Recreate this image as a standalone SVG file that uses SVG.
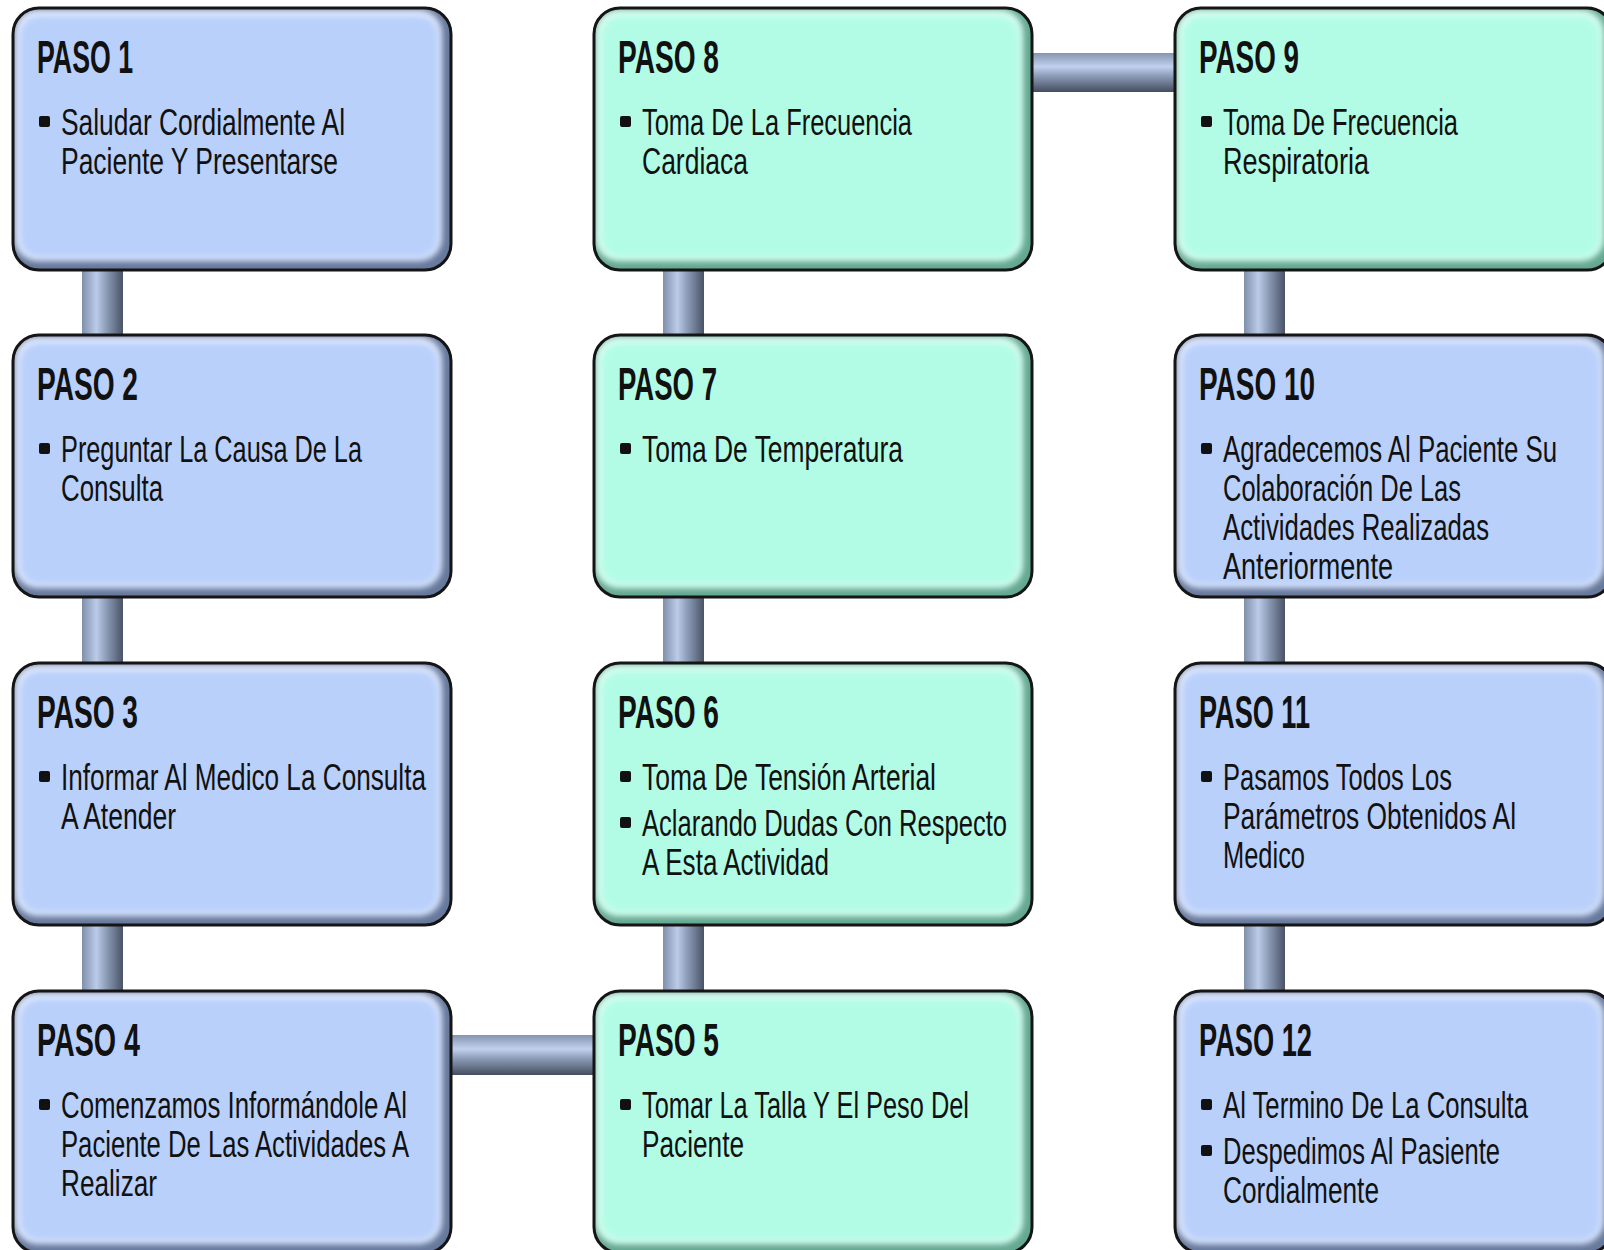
<svg xmlns="http://www.w3.org/2000/svg" width="1604" height="1250" viewBox="0 0 1604 1250">
<defs>
<style>
.t{font-family:"Liberation Sans Narrow","Liberation Sans","DejaVu Sans",sans-serif;font-stretch:condensed;font-weight:bold;font-size:46px;fill:#111}
.b{font-family:"Liberation Sans Narrow","Liberation Sans","DejaVu Sans",sans-serif;font-stretch:condensed;font-size:37px;fill:#111}
.dot{fill:#111}
.ol{fill:none;stroke:#151515;stroke-width:3}
</style>
<linearGradient id="gv" x1="0" y1="0" x2="1" y2="0">
<stop offset="0" stop-color="#7f90ab"/>
<stop offset="0.35" stop-color="#bccbe8"/>
<stop offset="0.6" stop-color="#8b9bb6"/>
<stop offset="1" stop-color="#4a5366"/>
</linearGradient>
<linearGradient id="gh" x1="0" y1="0" x2="0" y2="1">
<stop offset="0" stop-color="#8595b0"/>
<stop offset="0.35" stop-color="#c0d0ee"/>
<stop offset="0.6" stop-color="#8a9ab5"/>
<stop offset="1" stop-color="#454d5f"/>
</linearGradient>
<clipPath id="cb"><rect x="0" y="0" width="438" height="262" rx="26"/></clipPath>
<filter id="bl" x="-10%" y="-10%" width="120%" height="120%"><feGaussianBlur stdDeviation="3.5"/></filter>
<g id="blueBox">
<g clip-path="url(#cb)">
<rect x="0" y="0" width="438" height="262" fill="#66789c"/>
<rect x="2" y="2" width="426" height="250" rx="22" fill="#eef3ff" filter="url(#bl)"/>
<rect x="6" y="7" width="420" height="243" rx="20" fill="#b9d0fb" filter="url(#bl)"/>
</g>
<rect class="ol" x="0" y="0" width="438" height="262" rx="26"/>
</g>
<g id="greenBox">
<g clip-path="url(#cb)">
<rect x="0" y="0" width="438" height="262" fill="#64a891"/>
<rect x="2" y="2" width="426" height="250" rx="22" fill="#ebfff8" filter="url(#bl)"/>
<rect x="6" y="7" width="420" height="243" rx="20" fill="#b2fce5" filter="url(#bl)"/>
</g>
<rect class="ol" x="0" y="0" width="438" height="262" rx="26"/>
</g>
</defs>
<rect width="1604" height="1250" fill="#ffffff"/>
<g id="connectors">
<rect x="82" y="262" width="41" height="78" fill="url(#gv)"/>
<rect x="82" y="590" width="41" height="78" fill="url(#gv)"/>
<rect x="82" y="918" width="41" height="78" fill="url(#gv)"/>
<rect x="663" y="262" width="41" height="78" fill="url(#gv)"/>
<rect x="663" y="590" width="41" height="78" fill="url(#gv)"/>
<rect x="663" y="918" width="41" height="78" fill="url(#gv)"/>
<rect x="1244" y="262" width="41" height="78" fill="url(#gv)"/>
<rect x="1244" y="590" width="41" height="78" fill="url(#gv)"/>
<rect x="1244" y="918" width="41" height="78" fill="url(#gv)"/>
<rect x="445" y="1035" width="155" height="40" fill="url(#gh)"/>
<rect x="1027" y="53" width="153" height="39" fill="url(#gh)"/>
</g>
<g id="paso1" transform="translate(13,8)">
<use href="#blueBox"/>
<text class="t" x="24" y="65" textLength="96" lengthAdjust="spacingAndGlyphs">PASO 1</text>
<rect class="dot" x="26" y="108" width="11" height="11" rx="2"/>
<text class="b" x="48" y="127" textLength="284" lengthAdjust="spacingAndGlyphs">Saludar Cordialmente Al</text>
<text class="b" x="48" y="166" textLength="277" lengthAdjust="spacingAndGlyphs">Paciente Y Presentarse</text>
</g>
<g id="paso2" transform="translate(13,335)">
<use href="#blueBox"/>
<text class="t" x="24" y="65" textLength="101" lengthAdjust="spacingAndGlyphs">PASO 2</text>
<rect class="dot" x="26" y="108" width="11" height="11" rx="2"/>
<text class="b" x="48" y="127" textLength="301" lengthAdjust="spacingAndGlyphs">Preguntar La Causa De La</text>
<text class="b" x="48" y="166" textLength="102" lengthAdjust="spacingAndGlyphs">Consulta</text>
</g>
<g id="paso3" transform="translate(13,663)">
<use href="#blueBox"/>
<text class="t" x="24" y="65" textLength="101" lengthAdjust="spacingAndGlyphs">PASO 3</text>
<rect class="dot" x="26" y="108" width="11" height="11" rx="2"/>
<text class="b" x="48" y="127" textLength="365" lengthAdjust="spacingAndGlyphs">Informar Al Medico La Consulta</text>
<text class="b" x="48" y="166" textLength="115" lengthAdjust="spacingAndGlyphs">A Atender</text>
</g>
<g id="paso4" transform="translate(13,991)">
<use href="#blueBox"/>
<text class="t" x="24" y="65" textLength="103" lengthAdjust="spacingAndGlyphs">PASO 4</text>
<rect class="dot" x="26" y="108" width="11" height="11" rx="2"/>
<text class="b" x="48" y="127" textLength="346" lengthAdjust="spacingAndGlyphs">Comenzamos Informándole Al</text>
<text class="b" x="48" y="166" textLength="348" lengthAdjust="spacingAndGlyphs">Paciente De Las Actividades A</text>
<text class="b" x="48" y="205" textLength="96" lengthAdjust="spacingAndGlyphs">Realizar</text>
</g>
<g id="paso5" transform="translate(594,991)">
<use href="#greenBox"/>
<text class="t" x="24" y="65" textLength="101" lengthAdjust="spacingAndGlyphs">PASO 5</text>
<rect class="dot" x="26" y="108" width="11" height="11" rx="2"/>
<text class="b" x="48" y="127" textLength="327" lengthAdjust="spacingAndGlyphs">Tomar La Talla Y El Peso Del</text>
<text class="b" x="48" y="166" textLength="102" lengthAdjust="spacingAndGlyphs">Paciente</text>
</g>
<g id="paso6" transform="translate(594,663)">
<use href="#greenBox"/>
<text class="t" x="24" y="65" textLength="101" lengthAdjust="spacingAndGlyphs">PASO 6</text>
<rect class="dot" x="26" y="108" width="11" height="11" rx="2"/>
<text class="b" x="48" y="127" textLength="294" lengthAdjust="spacingAndGlyphs">Toma De Tensión Arterial</text>
<rect class="dot" x="26" y="154" width="11" height="11" rx="2"/>
<text class="b" x="48" y="173" textLength="365" lengthAdjust="spacingAndGlyphs">Aclarando Dudas Con Respecto</text>
<text class="b" x="48" y="212" textLength="187" lengthAdjust="spacingAndGlyphs">A Esta Actividad</text>
</g>
<g id="paso7" transform="translate(594,335)">
<use href="#greenBox"/>
<text class="t" x="24" y="65" textLength="99" lengthAdjust="spacingAndGlyphs">PASO 7</text>
<rect class="dot" x="26" y="108" width="11" height="11" rx="2"/>
<text class="b" x="48" y="127" textLength="261" lengthAdjust="spacingAndGlyphs">Toma De Temperatura</text>
</g>
<g id="paso8" transform="translate(594,8)">
<use href="#greenBox"/>
<text class="t" x="24" y="65" textLength="101" lengthAdjust="spacingAndGlyphs">PASO 8</text>
<rect class="dot" x="26" y="108" width="11" height="11" rx="2"/>
<text class="b" x="48" y="127" textLength="270" lengthAdjust="spacingAndGlyphs">Toma De La Frecuencia</text>
<text class="b" x="48" y="166" textLength="106" lengthAdjust="spacingAndGlyphs">Cardiaca</text>
</g>
<g id="paso9" transform="translate(1175,8)">
<use href="#greenBox"/>
<text class="t" x="24" y="65" textLength="100" lengthAdjust="spacingAndGlyphs">PASO 9</text>
<rect class="dot" x="26" y="108" width="11" height="11" rx="2"/>
<text class="b" x="48" y="127" textLength="235" lengthAdjust="spacingAndGlyphs">Toma De Frecuencia</text>
<text class="b" x="48" y="166" textLength="146" lengthAdjust="spacingAndGlyphs">Respiratoria</text>
</g>
<g id="paso10" transform="translate(1175,335)">
<use href="#blueBox"/>
<text class="t" x="24" y="65" textLength="116" lengthAdjust="spacingAndGlyphs">PASO 10</text>
<rect class="dot" x="26" y="108" width="11" height="11" rx="2"/>
<text class="b" x="48" y="127" textLength="334" lengthAdjust="spacingAndGlyphs">Agradecemos Al Paciente Su</text>
<text class="b" x="48" y="166" textLength="238" lengthAdjust="spacingAndGlyphs">Colaboración De Las</text>
<text class="b" x="48" y="205" textLength="266" lengthAdjust="spacingAndGlyphs">Actividades Realizadas</text>
<text class="b" x="48" y="244" textLength="170" lengthAdjust="spacingAndGlyphs">Anteriormente</text>
</g>
<g id="paso11" transform="translate(1175,663)">
<use href="#blueBox"/>
<text class="t" x="24" y="65" textLength="111" lengthAdjust="spacingAndGlyphs">PASO 11</text>
<rect class="dot" x="26" y="108" width="11" height="11" rx="2"/>
<text class="b" x="48" y="127" textLength="229" lengthAdjust="spacingAndGlyphs">Pasamos Todos Los</text>
<text class="b" x="48" y="166" textLength="293" lengthAdjust="spacingAndGlyphs">Parámetros Obtenidos Al</text>
<text class="b" x="48" y="205" textLength="82" lengthAdjust="spacingAndGlyphs">Medico</text>
</g>
<g id="paso12" transform="translate(1175,991)">
<use href="#blueBox"/>
<text class="t" x="24" y="65" textLength="113" lengthAdjust="spacingAndGlyphs">PASO 12</text>
<rect class="dot" x="26" y="108" width="11" height="11" rx="2"/>
<text class="b" x="48" y="127" textLength="305" lengthAdjust="spacingAndGlyphs">Al Termino De La Consulta</text>
<rect class="dot" x="26" y="154" width="11" height="11" rx="2"/>
<text class="b" x="48" y="173" textLength="277" lengthAdjust="spacingAndGlyphs">Despedimos Al Pasiente</text>
<text class="b" x="48" y="212" textLength="156" lengthAdjust="spacingAndGlyphs">Cordialmente</text>
</g>
</svg>
